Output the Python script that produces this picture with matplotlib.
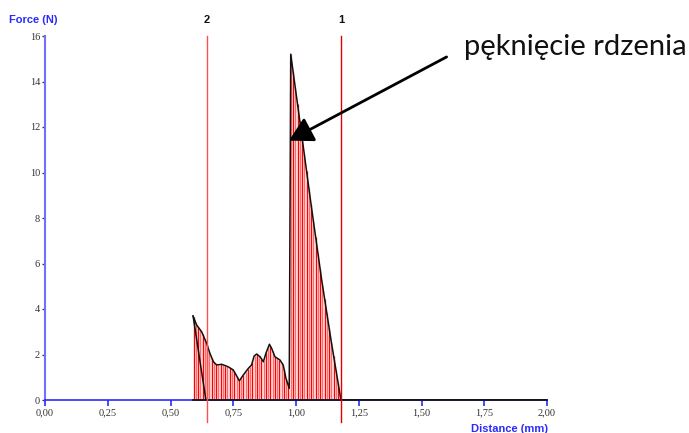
import numpy as np
import matplotlib
matplotlib.use("Agg")
import matplotlib.pyplot as plt

# Force-distance record of the core test
dist = [0.590, 0.604, 0.624, 0.644, 0.657, 0.671, 0.684, 0.704, 0.730, 0.750,
        0.764, 0.774, 0.790, 0.810, 0.823, 0.833, 0.843, 0.857, 0.870, 0.880,
        0.894, 0.903, 0.916, 0.936, 0.949, 0.960, 0.973, 0.979, 1.016, 1.060,
        1.102, 1.140, 1.179, 2.000]
force = [3.69, 3.30, 3.00, 2.49, 2.05, 1.68, 1.54, 1.57, 1.46, 1.32,
         1.05, 0.84, 1.10, 1.39, 1.54, 1.93, 2.02, 1.90, 1.68, 2.05,
         2.45, 2.27, 1.90, 1.76, 1.54, 0.95, 0.51, 15.2, 12.2, 8.6,
         5.3, 2.6, 0.0, 0.0]
# return segment from the first point back to the baseline
return_dist = [0.590, 0.641]
return_force = [3.69, 0.0]

# cursor positions
cursor_pos = [0.645, 1.179]
cursor_labels = ["2", "1"]
cursor_colors = ["#ff5050", "#e00000"]

x_ticks = [0.0, 0.25, 0.5, 0.75, 1.0, 1.25, 1.5, 1.75, 2.0]
x_ticklabels = ["0,00", "0,25", "0,50", "0,75", "1,00", "1,25", "1,50", "1,75", "2,00"]
y_ticks = [0, 2, 4, 6, 8, 10, 12, 14, 16]

peak_point = (0.972, 11.4)
note = "pęknięcie rdzenia"

blue = "#2a2aff"

fig = plt.figure(figsize=(6.89, 4.33), dpi=100)
ax = fig.add_axes([45 / 689, 33 / 433, 502 / 689, 364 / 433])
ax.set_xlim(0, 2)
ax.set_ylim(0, 16)

# hatched area under the curve
xd = np.array(dist)
yd = np.array(force)
ax.fill_between(xd, 0, yd, color="#ffe2e2", lw=0, zorder=1)
xs = np.arange(dist[0] + 0.002, cursor_pos[1], 0.009)
ys = np.interp(xs, xd, yd)
cols = ["#ff0000" if i % 2 == 0 else "#ff6a6a" for i in range(len(xs))]
ax.vlines(xs, 0, ys, colors=cols, lw=0.9, zorder=2)

# curve outline and baseline
ax.plot(dist, force, color="#111111", lw=1.1, zorder=4)
ax.plot(return_dist, return_force, color="#111111", lw=1.1, zorder=4)
ax.plot([dist[0], dist[-1]], [0, 0], color="#111111", lw=1.2, zorder=4, clip_on=False)

# cursors
for xp, lab, c in zip(cursor_pos, cursor_labels, cursor_colors):
    ax.plot([xp, xp], [-0.95, 16], color=c, lw=1.0, zorder=5, clip_on=False)
    ax.text(xp, 16.7, lab, ha="center", va="center", fontsize=8,
            fontweight="bold", family="Liberation Sans", color="#111111")

# axes styling
for s in ("top", "right"):
    ax.spines[s].set_visible(False)
ax.spines["left"].set_color("#7070ff")
ax.spines["left"].set_linewidth(1.5)
ax.spines["bottom"].set_color(blue)
ax.spines["bottom"].set_linewidth(1.2)
ax.set_xticks(x_ticks)
ax.set_xticklabels(x_ticklabels)
ax.set_yticks(y_ticks)
ax.set_yticklabels([str(v) for v in y_ticks])
ax.tick_params(axis="x", direction="out", length=4, width=1.2, color=blue,
               labelsize=7.5, labelcolor="#333333", pad=2)
ax.tick_params(axis="y", direction="out", length=2.5, width=1, color="#333333",
               labelsize=7.5, labelcolor="#333333", pad=1)
for lbl in ax.get_xticklabels() + ax.get_yticklabels():
    lbl.set_family("Liberation Serif")

fig.text(9 / 689, 1 - 20 / 433, "Force (N)", color=blue, fontsize=8,
         fontweight="bold", family="Liberation Sans", ha="left", va="center")
fig.text(548 / 689, 1 - 429 / 433, "Distance (mm)", color=blue, fontsize=8,
         fontweight="bold", family="Liberation Sans", ha="right", va="center")

# annotation
fig.text(464 / 689, 1 - 55 / 433, note, fontsize=21, family="Lato",
         color="#111111", ha="left", va="baseline")
ax.annotate("", xy=peak_point, xytext=(1.60, 15.08),
            arrowprops=dict(arrowstyle="-|>,head_length=0.9,head_width=0.5",
                            color="black", lw=2, mutation_scale=16, shrinkA=0, shrinkB=0),
            annotation_clip=False, zorder=6)

fig.savefig("out.png", dpi=100)
